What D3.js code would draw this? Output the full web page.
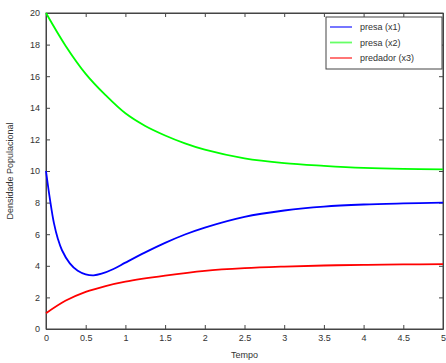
<!DOCTYPE html>
<html lang="pt">
<head>
<meta charset="UTF-8" />
<title>Densidade Populacional</title>
<style>
  body { margin: 0; background: #fff; }
  text { font-family: "Liberation Sans", Arial, sans-serif; fill: #333; }
  .tick text { font-size: 9px; }
  .axis path, .axis line { stroke: #444; }
</style>
<script src="https://d3js.org/d3.v7.min.js"></script>
</head>
<body>
<div id="chart"></div>
<script>
  // values
  const seriesNames = ["presa (x1)", "presa (x2)", "predador (x3)"];
  const seriesColors = ["#0000ff", "#00ff00", "#ff0000"];

  const tX1 = [0, 0.05, 0.1, 0.15, 0.2, 0.3, 0.4, 0.5, 0.6, 0.7, 0.85, 1, 1.25, 1.5, 1.75, 2, 2.5, 3, 3.5, 4, 4.5, 5];
  const x1 = [10, 8.2, 6.7, 5.7, 5.0, 4.15, 3.68, 3.46, 3.4, 3.5, 3.8, 4.2, 4.85, 5.45, 5.98, 6.42, 7.1, 7.5, 7.75, 7.88, 7.95, 8.0];

  const tX2 = [0, 0.25, 0.5, 0.75, 1, 1.25, 1.5, 1.75, 2, 2.5, 3, 3.5, 4, 4.5, 5];
  const x2 = [20, 17.9, 16.15, 14.8, 13.65, 12.85, 12.25, 11.75, 11.35, 10.8, 10.5, 10.33, 10.2, 10.13, 10.1];

  const tX3 = [0, 0.25, 0.5, 0.75, 1, 1.5, 2, 2.5, 3, 3.5, 4, 4.5, 5];
  const x3 = [1.0, 1.8, 2.35, 2.72, 3.0, 3.38, 3.68, 3.85, 3.95, 4.02, 4.06, 4.09, 4.1];

  const xTicks = [0, 0.5, 1, 1.5, 2, 2.5, 3, 3.5, 4, 4.5, 5];
  const yTicks = [0, 2, 4, 6, 8, 10, 12, 14, 16, 18, 20];

  const width = 446, height = 363;
  const margin = { top: 13, right: 3, bottom: 34, left: 46 };
  const innerW = width - margin.left - margin.right;
  const innerH = height - margin.top - margin.bottom;

  const svg = d3.select("#chart").append("svg")
    .attr("width", width).attr("height", height);
  const g = svg.append("g").attr("transform", `translate(${margin.left},${margin.top})`);

  const x = d3.scaleLinear().domain([0, 5]).range([0, innerW]);
  const y = d3.scaleLinear().domain([0, 20]).range([innerH, 0]);

  // axes with inward ticks, MATLAB style box
  g.append("g").attr("class", "axis")
    .attr("transform", `translate(0,${innerH})`)
    .call(d3.axisBottom(x).tickValues(xTicks).tickSizeInner(-4).tickSizeOuter(0).tickPadding(6)
      .tickFormat(d3.format("~g")));
  g.append("g").attr("class", "axis")
    .call(d3.axisTop(x).tickValues(xTicks).tickSizeInner(-4).tickSizeOuter(0).tickFormat(""));
  g.append("g").attr("class", "axis")
    .call(d3.axisLeft(y).tickValues(yTicks).tickSizeInner(-4).tickSizeOuter(0).tickPadding(6));
  g.append("g").attr("class", "axis")
    .attr("transform", `translate(${innerW},0)`)
    .call(d3.axisRight(y).tickValues(yTicks).tickSizeInner(-4).tickSizeOuter(0).tickFormat(""));
  g.append("rect").attr("width", innerW).attr("height", innerH)
    .attr("fill", "none").attr("stroke", "#444");

  const series = [
    { t: tX1, v: x1 },
    { t: tX2, v: x2 },
    { t: tX3, v: x3 }
  ];
  const line = d3.line().x(d => x(d[0])).y(d => y(d[1])).curve(d3.curveCatmullRom.alpha(0.5));
  series.forEach((s, i) => {
    g.append("path")
      .datum(d3.zip(s.t, s.v))
      .attr("fill", "none")
      .attr("stroke", seriesColors[i])
      .attr("stroke-width", 1.8)
      .attr("d", line);
  });

  // axis labels
  svg.append("text")
    .attr("x", margin.left + innerW / 2).attr("y", height - 5)
    .attr("text-anchor", "middle").attr("font-size", 9)
    .text("Tempo");
  svg.append("text")
    .attr("transform", `translate(13,${margin.top + innerH / 2}) rotate(-90)`)
    .attr("text-anchor", "middle").attr("font-size", 9)
    .text("Densidade Populacional");

  // legend
  const legend = g.append("g").attr("transform", `translate(${326 - margin.left},${17 - margin.top})`);
  legend.append("rect").attr("width", 116).attr("height", 52)
    .attr("fill", "#fff").attr("stroke", "#444");
  seriesNames.forEach((name, i) => {
    const ly = 10 + i * 15.5;
    legend.append("line")
      .attr("x1", 4).attr("x2", 26).attr("y1", ly).attr("y2", ly)
      .attr("stroke", seriesColors[i]).attr("stroke-width", 1.8).attr("stroke-opacity", 0.6);
    legend.append("text")
      .attr("x", 34).attr("y", ly + 3).attr("font-size", 9)
      .text(name);
  });
</script>
</body>
</html>
